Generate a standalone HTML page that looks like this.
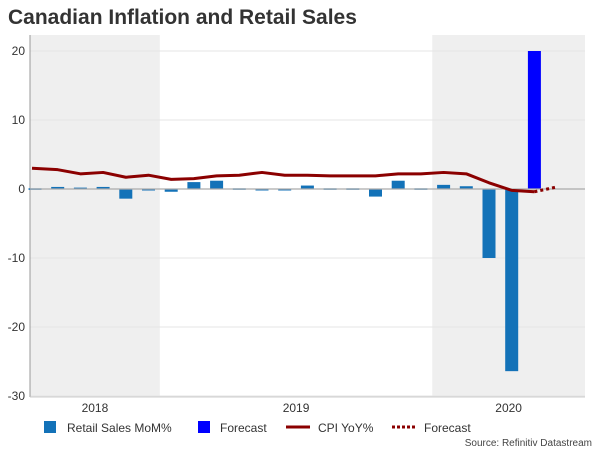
<!DOCTYPE html>
<html><head><meta charset="utf-8"><style>
body{margin:0;background:#fff;font-family:"Liberation Sans",sans-serif}
svg text{font-family:"Liberation Sans",sans-serif}
</style></head><body>
<svg width="600" height="450" id="c">
<text x="8" y="24" font-size="21" font-weight="bold" fill="#333">Canadian Inflation and Retail Sales</text>
<g id="plot"></g>
<g>
<rect x="44" y="421" width="12" height="12" fill="#1372b8"/>
<text x="67" y="432" font-size="12" fill="#333">Retail Sales MoM%</text>
<rect x="198" y="421" width="12" height="12" fill="#0000ff"/>
<text x="220" y="432" font-size="12" fill="#333">Forecast</text>
<line x1="286" y1="427" x2="310" y2="427" stroke="#8b0000" stroke-width="3"/>
<text x="318" y="432" font-size="12" fill="#333">CPI YoY%</text>
<line x1="392" y1="427" x2="416" y2="427" stroke="#8b0000" stroke-width="3" stroke-dasharray="3,2"/>
<text x="424" y="432" font-size="12" fill="#333">Forecast</text>
</g>
<text x="592" y="446" font-size="10" fill="#444" text-anchor="end">Source: Refinitiv Datastream</text>
</svg>
<script>
const months = ["Jul18","Aug18","Sep18","Oct18","Nov18","Dec18","Jan19","Feb19","Mar19","Apr19","May19","Jun19","Jul19","Aug19","Sep19","Oct19","Nov19","Dec19","Jan20","Feb20","Mar20","Apr20","May20","Jun20"];
const retail = [0.1,0.3,0.2,0.3,-1.4,-0.2,-0.4,1.0,1.2,0.1,-0.2,-0.1,0.5,0.1,0.1,-1.1,1.2,0.1,0.6,0.4,-10.0,-26.4,null,null];
const retailForecast = [null,null,null,null,null,null,null,null,null,null,null,null,null,null,null,null,null,null,null,null,null,null,20.0,null];
const cpi = [3.0,2.8,2.2,2.4,1.7,2.0,1.4,1.5,1.9,2.0,2.4,2.0,2.0,1.9,1.9,1.9,2.2,2.2,2.4,2.2,0.9,-0.2,-0.4,null];
const cpiForecast = [null,null,null,null,null,null,null,null,null,null,null,null,null,null,null,null,null,null,null,null,null,null,-0.4,0.3];
const yTicks = [20,10,0,-10,-20,-30];
const years = [{label:"2018",from:0,to:5,shade:true},{label:"2019",from:6,to:17,shade:false},{label:"2020",from:18,to:29,shade:true}];

const NS="http://www.w3.org/2000/svg";
const g=document.getElementById('plot');
const L=30,R=585,T=35,B=397;
const x=i=>35+i*22.7;
const y=v=>189-v*6.9;
function mk(t,a){const e=document.createElementNS(NS,t);for(const k in a)e.setAttribute(k,a[k]);g.appendChild(e);return e;}
years.forEach(yr=>{
  const x0=Math.max(L,x(yr.from)-11.35), x1=Math.min(R,x(yr.to)+11.35);
  if(yr.shade){const r=mk('rect',{x:x0,y:T,width:x1-x0,height:B-T,fill:'#efefef'});
  
  }
  const t=mk('text',{x:(x0+x1)/2,y:412,'font-size':12,fill:'#333','text-anchor':'middle'});t.textContent=yr.label;
  
  
});
yTicks.forEach(v=>{
  if(v!==0){const gl=mk('line',{x1:L,x2:R,y1:y(v),y2:y(v),stroke:'#e4e4e4','stroke-width':1});
  
  }
  const t=mk('text',{x:25,y:y(v)+4,'font-size':12,fill:'#333','text-anchor':'end'});t.textContent=v;
  
  
});
const ax=mk('line',{x1:L,x2:L,y1:T,y2:B,stroke:'#999'});


const bx=mk('line',{x1:L,x2:R,y1:B,y2:B,stroke:'#ccc'});


function bars(arr,col,name){arr.forEach((v,i)=>{if(v==null)return;
  const r=mk('rect',{x:x(i)-6.5,y:Math.min(y(v),y(0)),width:13,height:Math.max(1.5,Math.abs(y(v)-y(0))),fill:col});
  
  });}
bars(retail,'#1372b8','retail-bar');
bars(retailForecast,'#0000ff','retail-forecast-bar');
const zl=mk('line',{x1:L,x2:R,y1:y(0),y2:y(0),stroke:'#aaa','stroke-width':1.2});


function line(arr,dash,name){const p=[];arr.forEach((v,i)=>{if(v!=null)p.push((i===0?L+2:x(i))+','+y(v));});
  const a={points:p.join(' '),fill:'none',stroke:'#8b0000','stroke-width':3,'stroke-linejoin':'round'};if(dash)a['stroke-dasharray']=dash;
  const e=mk('polyline',a);
  
  }
line(cpi,null,'cpi-line');
line(cpiForecast,'3,3','cpi-forecast-line');
</script>
</body></html>
